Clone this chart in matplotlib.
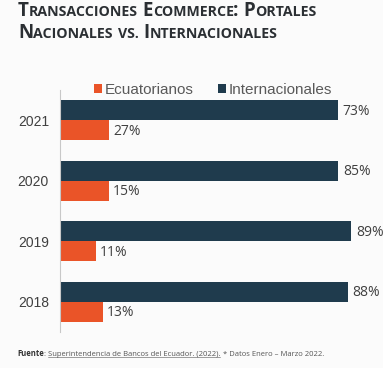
import matplotlib
matplotlib.use("Agg")
import matplotlib.pyplot as plt
import numpy as np

# ---- data ----
years = ["2018", "2019", "2020", "2021"]
# bar lengths as drawn in the reference (the 2021 bars are drawn like 2020)
ecuatorianos = [13, 11, 15, 15]
internacionales = [88, 89, 85, 85]
# value labels as printed in the reference
ecu_labels = ["13%", "11%", "15%", "27%"]
int_labels = ["88%", "89%", "85%", "73%"]
series_names = ["Ecuatorianos", "Internacionales"]

title_lines = [
    [("T", 1), ("RANSACCIONES", 0), (" ", 1), ("E", 1), ("COMMERCE", 0), (":", 1), (" ", 1),
     ("P", 1), ("ORTALES", 0)],
    [("N", 1), ("ACIONALES", 0), (" ", 1), ("VS.", 0), (" ", 1), ("I", 1), ("NTERNACIONALES", 0)],
]

C_DARK = "#1f3b4d"
C_ORANGE = "#ea5428"
BG = "#fbfbfb"
TXT = "#404040"

W, H = 383, 368
fig = plt.figure(figsize=(W / 100, H / 100), dpi=100, facecolor=BG)

ax_left, ax_right = 60, 383
ax_top, ax_bot = 90, 332
ax = fig.add_axes([ax_left / W, 1 - ax_bot / H, (ax_right - ax_left) / W, (ax_bot - ax_top) / H])
ax.set_facecolor(BG)

y = np.arange(len(years))
bh = 0.33
ax.barh(y + bh / 2, internacionales, height=bh, color=C_DARK, label=series_names[1])
ax.barh(y - bh / 2, ecuatorianos, height=bh, color=C_ORANGE, label=series_names[0])

for yi, v, lab in zip(y, internacionales, int_labels):
    ax.text(v + 1.5, yi + bh / 2 - 0.02, lab, va="center", ha="left", fontsize=10,
            family="Open Sans", color=TXT, clip_on=False)
for yi, v, lab in zip(y, ecuatorianos, ecu_labels):
    ax.text(v + 1.2, yi - bh / 2 - 0.02, lab, va="center", ha="left", fontsize=10,
            family="Open Sans", color=TXT, clip_on=False)

ax.set_xlim(0, (ax_right - ax_left) / 3.27)
ax.set_ylim(-0.5, 3.5)
ax.set_yticks(y)
ax.set_yticklabels(years, fontsize=10, family="Liberation Sans", color=TXT)
ax.tick_params(axis="y", length=0, pad=8)
ax.set_xticks([])
for s in ["top", "right", "bottom"]:
    ax.spines[s].set_visible(False)
ax.spines["left"].set_color("#c8c8c8")
ax.spines["left"].set_linewidth(0.8)

handles, labels = ax.get_legend_handles_labels()
leg = fig.legend(handles[::-1], labels[::-1], ncol=2, loc="center",
                 bbox_to_anchor=(213 / W, 1 - 90 / H), frameon=False,
                 prop={"family": "Liberation Sans", "size": 11},
                 handlelength=0.55, handleheight=0.55, handletextpad=0.15,
                 columnspacing=1.6, labelcolor="#595959")

# ---- title in small caps ----
renderer = fig.canvas.get_renderer()
big, small = 13.5, 10.2
baselines = [15.5, 38.5]
for line, base in zip(title_lines, baselines):
    x = 18
    for txt, isbig in line:
        if txt == " ":
            x += 5
            continue
        t = fig.text(x / W, 1 - base / H, txt, fontsize=big if isbig else small,
                     fontweight="bold", family="Open Sans", color="#2b2f33",
                     va="baseline", ha="left")
        bb = t.get_window_extent(renderer)
        x = bb.x1 - (1.0 if txt == "COMMERCE" else 0)

# ---- footer ----
fb = 355.5
x = 17
pieces = [("Fuente", "bold", "#333333", False), (":", "normal", "#555555", False),
          (" ", None, None, False),
          ("Superintendencia de Bancos del Ecuador. (2022).", "normal", "#555555", True),
          (" ", None, None, False),
          ("* Datos Enero \u2013 Marzo 2022.", "normal", "#555555", False)]
for txt, wt, col, ul in pieces:
    if txt == " ":
        x += 2.2
        continue
    t = fig.text(x / W, 1 - fb / H, txt, fontsize=5.5, fontweight=wt, family="Open Sans",
                 color=col, va="baseline", ha="left")
    bb = t.get_window_extent(renderer)
    if ul:
        fig.add_artist(plt.Line2D([bb.x0 / W, bb.x1 / W], [1 - (fb + 1.6) / H] * 2,
                                  color=col, lw=0.4))
    x = bb.x1

fig.savefig("out.png", dpi=100, facecolor=BG)
